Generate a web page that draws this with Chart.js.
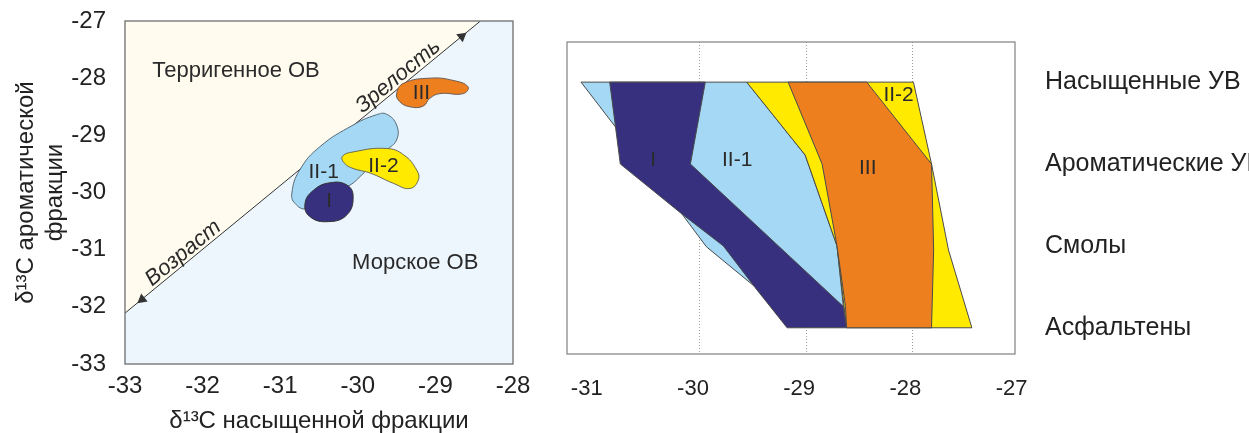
<!DOCTYPE html>
<html>
<head>
<meta charset="utf-8">
<script src="https://cdn.jsdelivr.net/npm/chart.js@4.4.0/dist/chart.umd.min.js"></script>
<style>
html, body { margin: 0; padding: 0; background: #fff; }
#left { position: absolute; left: 0; top: 0; width: 540px; height: 433px; }
#right { position: absolute; left: 540px; top: 0; width: 709px; height: 433px; }
</style>
</head>
<body>
<div id="left"><canvas id="mapChart"></canvas></div>
<div id="right"><canvas id="fracChart"></canvas></div>
<script>
// ---- left plot: d13C saturated (x) vs d13C aromatic (y)
const xTicksLeft = [-33, -32, -31, -30, -29, -28];
const yTicksLeft = [-33, -32, -31, -30, -29, -28, -27];
const divideLine = [{x: -33, y: -32.11}, {x: -28.42, y: -27}];
const arrowHeads = [{x: -28.66, y: -27.27}, {x: -32.78, y: -31.87}];

const blobI = [
    {x: -30.68, y: -30.19}, {x: -30.57, y: -29.96}, {x: -30.36, y: -29.83}, {x: -30.14, y: -29.87},
    {x: -30.06, y: -30.07}, {x: -30.14, y: -30.39}, {x: -30.38, y: -30.51}, {x: -30.62, y: -30.42}
];
const blobII1 = [
    {x: -30.85, y: -30.01}, {x: -30.75, y: -29.61}, {x: -30.49, y: -29.20}, {x: -30.06, y: -28.82},
    {x: -29.76, y: -28.64}, {x: -29.63, y: -28.63}, {x: -29.50, y: -28.82}, {x: -29.50, y: -29.08},
    {x: -29.63, y: -29.26}, {x: -29.97, y: -29.72}, {x: -30.10, y: -29.87}, {x: -30.66, y: -30.28},
    {x: -30.81, y: -30.19}
];
const blobII2 = [
    {x: -30.20, y: -29.37}, {x: -30.06, y: -29.29}, {x: -29.63, y: -29.23}, {x: -29.41, y: -29.34},
    {x: -29.24, y: -29.61}, {x: -29.22, y: -29.78}, {x: -29.33, y: -29.93}, {x: -29.54, y: -29.84},
    {x: -29.84, y: -29.66}, {x: -30.06, y: -29.58}, {x: -30.17, y: -29.49}
];
const blobIII = [
    {x: -29.50, y: -28.27}, {x: -29.41, y: -28.09}, {x: -29.07, y: -28.00}, {x: -28.77, y: -28.04},
    {x: -28.58, y: -28.15}, {x: -28.64, y: -28.27}, {x: -28.94, y: -28.27}, {x: -29.07, y: -28.35},
    {x: -29.16, y: -28.49}, {x: -29.33, y: -28.50}, {x: -29.46, y: -28.41}
];

const leftNames = ['Терригенное ОВ', 'Морское ОВ', 'Зрелость', 'Возраст', 'I', 'II-1', 'II-2', 'III'];
const leftNameX = [-31.57, -29.26, -29.48, -32.25, -30.37, -30.44, -29.67, -29.18];
const leftNameY = [-27.87, -31.23, -27.97, -31.06, -30.16, -29.64, -29.54, -28.27];

// ---- right plot: d13C of fractions
const categories = ['Насыщенные УВ', 'Ароматические УВ', 'Смолы', 'Асфальтены'];
const xTicksRight = [-31, -30, -29, -28, -27];
const gridRight = [-30, -29, -28];

const polyII1 = [
    {x: -31.12, y: 0}, {x: -29.56, y: 0}, {x: -29.01, y: 0.89}, {x: -28.71, y: 2.0},
    {x: -28.65, y: 2.74}, {x: -29.50, y: 2.48}, {x: -29.94, y: 2.01}, {x: -30.17, y: 1.61},
    {x: -30.80, y: 0.54}
];
const polyI = [
    {x: -30.85, y: 0}, {x: -29.95, y: 0}, {x: -30.09, y: 1.0}, {x: -28.65, y: 2.74},
    {x: -28.62, y: 3}, {x: -29.18, y: 3}, {x: -29.48, y: 2.51}, {x: -29.78, y: 2.0},
    {x: -30.17, y: 1.61}, {x: -30.75, y: 1.0}
];
const polyII2 = [
    {x: -29.56, y: 0}, {x: -27.99, y: 0}, {x: -27.82, y: 1.0}, {x: -27.66, y: 2.05},
    {x: -27.44, y: 3}, {x: -28.62, y: 3}, {x: -28.71, y: 2.0}, {x: -29.01, y: 0.89}
];
const polyIII = [
    {x: -29.17, y: 0}, {x: -28.43, y: 0}, {x: -27.82, y: 1.0}, {x: -27.80, y: 2.05},
    {x: -27.82, y: 3}, {x: -28.62, y: 3}, {x: -28.63, y: 2.74}, {x: -28.71, y: 2.0},
    {x: -28.85, y: 1.0}
];

const rightNames = ['I', 'II-1', 'III', 'II-2'];
const rightNameX = [-30.44, -29.65, -28.42, -28.13];
const rightNameY = [0.95, 0.95, 1.05, 0.155];

// colours
const cDark = '#37307f';
const cLight = '#a4d8f4';
const cYellow = '#ffea00';
const cOrange = '#ee7f1f';
const FONT = "'Liberation Sans', Arial, sans-serif";

Chart.defaults.font.family = FONT;
Chart.defaults.color = '#222';

function notesPlugin(names, xs, ys, styles) {
    return {
        id: 'notes',
        afterDatasetsDraw(chart) {
            const ctx = chart.ctx;
            const sx = chart.scales.x, sy = chart.scales.y;
            names.forEach((t, i) => {
                const st = styles[i] || {};
                ctx.save();
                ctx.translate(sx.getPixelForValue(xs[i]), sy.getPixelForValue(ys[i]));
                ctx.rotate((st.rot || 0) * Math.PI / 180);
                ctx.font = (st.italic ? 'italic ' : '') + (st.size || 21) + 'px ' + FONT;
                ctx.fillStyle = '#2a2a2a';
                ctx.textAlign = 'center';
                ctx.textBaseline = 'middle';
                ctx.fillText(t, 0, 0);
                ctx.restore();
            });
        }
    };
}

function framePlugin(bg, edge) {
    return {
        id: 'frame',
        beforeDatasetsDraw(chart) {
            if (!bg) return;
            const {ctx, chartArea: a} = chart;
            ctx.save();
            ctx.fillStyle = bg;
            ctx.fillRect(a.left, a.top, a.right - a.left, a.bottom - a.top);
            ctx.restore();
        },
        afterDatasetsDraw(chart) {
            const {ctx, chartArea: a} = chart;
            ctx.save();
            ctx.strokeStyle = edge;
            ctx.lineWidth = 1.3;
            ctx.strokeRect(a.left, a.top, a.right - a.left, a.bottom - a.top);
            ctx.restore();
        }
    };
}

// smooth closed outline: wrap three points round so the join is curved too
function blobSet(label, pts, fillColor, edge, order) {
    const n = pts.length;
    return {
        label: label,
        data: pts.concat([pts[0], pts[1], pts[2]]),
        order: order,
        backgroundColor: fillColor,
        borderColor: edge,
        borderWidth: 1,
        fill: 'shape',
        tension: 0.45,
        pointRadius: 0,
        segment: {
            borderColor: c => (c.p0DataIndex === 0 || c.p0DataIndex === n + 1) ? 'rgba(0,0,0,0)' : edge
        }
    };
}

function polySet(label, pts, fillColor, order) {
    return {
        label: label,
        data: pts.concat([pts[0]]),
        order: order,
        backgroundColor: fillColor,
        borderColor: '#4a4a4a',
        borderWidth: 1,
        fill: 'shape',
        tension: 0,
        pointRadius: 0
    };
}

const mapCtx = document.getElementById('mapChart').getContext('2d');
new Chart(mapCtx, {
    type: 'line',
    data: {
        datasets: [
            {
                label: 'divide',
                data: divideLine,
                order: 10,
                borderColor: '#333',
                borderWidth: 1,
                backgroundColor: '#fffcef',
                fill: 'end',
                tension: 0,
                pointRadius: 0
            },
            blobSet('II-1', blobII1, cLight, '#5a6a75', 6),
            blobSet('II-2', blobII2, cYellow, '#6a6a50', 4),
            blobSet('I', blobI, cDark, '#333', 3),
            blobSet('III', blobIII, cOrange, '#6a5a50', 3),
            {
                label: 'arrows',
                data: arrowHeads,
                order: 0,
                showLine: false,
                pointStyle: 'triangle',
                pointRadius: 6,
                rotation: [51, 231],
                pointBackgroundColor: '#333',
                pointBorderColor: '#333',
                pointBorderWidth: 0
            }
        ]
    },
    options: {
        responsive: true,
        maintainAspectRatio: false,
        animation: false,
        layout: { padding: { top: 21, right: 27, left: 0, bottom: 0 } },
        plugins: { legend: { display: false }, tooltip: { enabled: false } },
        scales: {
            x: {
                type: 'linear',
                min: -33, max: -28,
                afterBuildTicks: s => { s.ticks = xTicksLeft.map(v => ({value: v})); },
                afterFit: s => { s.height = 69; s.paddingLeft = 0; s.paddingRight = 0; },
                grid: { display: false, drawTicks: false },
                border: { display: false },
                ticks: { font: { size: 24 }, padding: 8, color: '#222' },
                title: {
                    display: true,
                    text: 'δ¹³C насыщенной фракции',
                    font: { size: 24, lineHeight: 1.0 },
                    padding: 0,
                    color: '#222'
                }
            },
            y: {
                type: 'linear',
                min: -33, max: -27,
                afterBuildTicks: s => { s.ticks = yTicksLeft.map(v => ({value: v})); },
                afterFit: s => { s.width = 125; s.paddingTop = 0; s.paddingBottom = 0; },
                grid: { display: false, drawTicks: false },
                border: { display: false },
                ticks: { font: { size: 24 }, padding: 19, color: '#222' },
                title: {
                    display: true,
                    text: ['δ¹³C ароматической', 'фракции'],
                    font: { size: 24, lineHeight: 1.2 },
                    padding: { top: 12, bottom: 0 },
                    color: '#222'
                }
            }
        }
    },
    plugins: [
        framePlugin('#eef6fd', '#6d6d6d'),
        notesPlugin(leftNames, leftNameX, leftNameY, [
            {size: 22}, {size: 22}, {size: 22, italic: true, rot: -39.5}, {size: 22, italic: true, rot: -39.5},
            {size: 21}, {size: 21}, {size: 21}, {size: 21}
        ])
    ]
});

const fracCtx = document.getElementById('fracChart').getContext('2d');
new Chart(fracCtx, {
    type: 'line',
    data: {
        datasets: [
            polySet('II-1', polyII1, cLight, 4),
            polySet('II-2', polyII2, cYellow, 3),
            polySet('III', polyIII, cOrange, 2),
            polySet('I', polyI, cDark, 1)
        ]
    },
    options: {
        responsive: true,
        maintainAspectRatio: false,
        animation: false,
        layout: { padding: { top: 42, right: 0, left: 27, bottom: 0 } },
        plugins: { legend: { display: false }, tooltip: { enabled: false } },
        scales: {
            x: {
                type: 'linear',
                min: -31.252, max: -27.034,
                afterBuildTicks: s => { s.ticks = xTicksRight.map(v => ({value: v})); },
                afterFit: s => { s.height = 79; s.paddingLeft = 0; s.paddingRight = 0; },
                grid: {
                    drawTicks: false,
                    lineWidth: 1,
                    color: c => gridRight.includes(c.tick && c.tick.value) ? '#9a9a9a' : 'rgba(0,0,0,0)'
                },
                border: { display: false, dash: [1, 2] },
                ticks: { font: { size: 22 }, padding: 22, labelOffset: -7, color: '#222' }
            },
            y: {
                type: 'linear',
                position: 'right',
                reverse: true,
                min: -0.49, max: 3.32,
                afterBuildTicks: s => { s.ticks = [0, 1, 2, 3].map(v => ({value: v})); },
                afterFit: s => { s.width = 234; s.paddingTop = 0; s.paddingBottom = 0; },
                grid: { display: false, drawTicks: false },
                border: { display: false },
                ticks: {
                    font: { size: 25 },
                    padding: 30,
                    color: '#222',
                    callback: v => categories[v]
                }
            }
        }
    },
    plugins: [
        framePlugin(null, '#8a8a8a'),
        notesPlugin(rightNames, rightNameX, rightNameY, [{size: 21}, {size: 21}, {size: 21}, {size: 21}])
    ]
});
</script>
</body>
</html>
